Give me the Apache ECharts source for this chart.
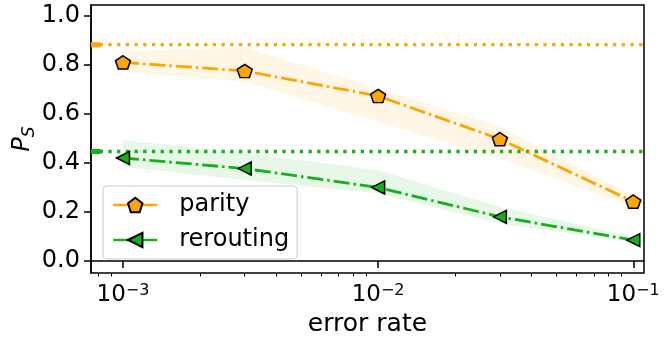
<!DOCTYPE html>
<html>
<head>
<meta charset="utf-8">
<script src="https://cdn.jsdelivr.net/npm/echarts@6/dist/echarts.min.js"></script>
<style>
  html, body { margin: 0; padding: 0; background: #fff; }
  #chart { width: 671px; height: 339px; }
</style>
</head>
<body>
<div id="chart"></div>
<script>
// error rates (x) and success probabilities
const errorRates = [1e-3, 3e-3, 1e-2, 3e-2, 1e-1];
const parity = [0.81, 0.775, 0.673, 0.497, 0.242];
const parityLow = [0.771, 0.731, 0.567, 0.418, 0.22];
const parityHigh = [0.856, 0.871, 0.704, 0.547, 0.268];
const rerouting = [0.42, 0.377, 0.30, 0.18, 0.085];
const reroutingLow = [0.384, 0.33, 0.275, 0.153, 0.078];
const reroutingHigh = [0.493, 0.44, 0.37, 0.22, 0.10];
// reference levels (dotted lines)
const parityRef = 0.882;
const reroutingRef = 0.4465;
// axis ticks
const yTicks = [0, 0.2, 0.4, 0.6, 0.8, 1.0];
const xMajor = [1e-3, 1e-2, 1e-1];
const xMinor = [8e-4, 9e-4, 2e-3, 3e-3, 4e-3, 5e-3, 6e-3, 7e-3, 8e-3, 9e-3,
  2e-2, 3e-2, 4e-2, 5e-2, 6e-2, 7e-2, 8e-2, 9e-2];

const ORANGE = "#FFA500";
const GREEN = "#15b01a";
const FONT = "DejaVu Sans";
const FS = 24;
const X_MIN = -3.1253;
const X_MAX = -0.958;

const lg = (v) => Math.log10(v);
const pts = (ys) => errorRates.map((x, i) => [lg(x), ys[i]]);
const hline = (y) => [[X_MIN, y], [X_MAX, y]];
const stub = (y) => [[X_MIN, y], [X_MIN + 0.038, y]];

const pentagon = "path://M50,0 L97.55,34.55 L79.39,90.45 L20.61,90.45 L2.45,34.55 Z";
const triLeft = "path://M0,50 L100,0 L100,100 Z";

// shaded band between lo and hi, drawn as one polygon
function band(lo, hi, color) {
  return {
    type: "custom", silent: true, z: 1,
    data: [0],
    renderItem: function (params, api) {
      const upper = errorRates.map((x, i) => api.coord([lg(x), hi[i]]));
      const lower = errorRates.map((x, i) => api.coord([lg(x), lo[i]])).reverse();
      return {
        type: "polygon",
        shape: { points: upper.concat(lower) },
        style: { fill: color, opacity: 0.1 },
      };
    },
  };
}

function refLine(y, color) {
  return [
    {
      type: "line", data: hline(y), symbol: "none", silent: true, z: 2,
      lineStyle: { color: color, width: 3.3, type: [3.3, 5.4] },
    },
    {
      type: "line", data: stub(y), symbol: "none", silent: true, z: 2,
      lineStyle: { color: color, width: 5 },
    },
  ];
}

const chart = echarts.init(document.getElementById("chart"));
chart.setOption({
  animation: false,
  textStyle: { fontFamily: FONT },
  grid: {
    left: 91, right: 27, top: 5, bottom: 66,
    outerBoundsMode: "none", containLabel: false,
    show: true, borderColor: "#000", borderWidth: 1.5,
  },
  legend: {
    data: ["parity", "rerouting"],
    orient: "vertical",
    left: 103, top: 186,
    padding: [7, 8, 7, 9],
    itemWidth: 44, itemHeight: 18, itemGap: 11,
    borderColor: "#cccccc", borderWidth: 1, borderRadius: 4,
    backgroundColor: "rgba(255,255,255,0.8)",
    lineStyle: { type: "solid", width: 2.5 },
    textStyle: { fontSize: FS, color: "#000", fontFamily: FONT, padding: [0, 0, 0, 17], lineHeight: 24 },
  },
  xAxis: [
    {
      type: "value", min: X_MIN, max: X_MAX,
      name: "error rate", nameLocation: "middle", nameGap: 28,
      nameTextStyle: { fontSize: 25, color: "#000", fontFamily: FONT },
      axisLine: { show: true, lineStyle: { color: "#000", width: 1.5 } },
      axisTick: { show: true, length: 7, lineStyle: { color: "#000", width: 1.5 }, customValues: xMajor.map(lg) },
      axisLabel: {
        customValues: xMajor.map(lg),
        color: "#000", fontSize: 23, margin: 10,
        formatter: (v) => "10{sup|\u2212" + Math.round(-v) + "}",
        rich: {
          sup: { fontSize: 16, color: "#000", verticalAlign: "top", padding: [0, 0, 9, 0] },
        },
      },
      splitLine: { show: false },
    },
    {
      type: "value", min: X_MIN, max: X_MAX, gridIndex: 0, position: "bottom",
      axisLine: { show: false },
      axisTick: { show: true, length: 3.5, lineStyle: { color: "#000", width: 1 }, customValues: xMinor.map(lg) },
      axisLabel: { show: false },
      splitLine: { show: false },
    },
  ],
  yAxis: {
    type: "value", min: -0.049, max: 1.044,
    name: "{P|P}{S|S}", nameLocation: "middle", nameGap: 56, nameRotate: 90,
    nameMoveOverlap: false,
    nameTextStyle: {
      rich: {
        P: { fontSize: 24, fontStyle: "italic", color: "#000", fontFamily: FONT, lineHeight: 24, verticalAlign: "top" },
        S: { fontSize: 17, fontStyle: "italic", color: "#000", fontFamily: FONT, lineHeight: 17, verticalAlign: "top", padding: [10, 0, 0, 0] },
      },
    },
    axisLine: { show: true, lineStyle: { color: "#000", width: 1.5 } },
    axisTick: { show: true, length: 7, lineStyle: { color: "#000", width: 1.5 }, customValues: yTicks },
    axisLabel: {
      customValues: yTicks, color: "#000", fontSize: FS, margin: 11,
      formatter: (v) => v.toFixed(1),
    },
    splitLine: { show: false },
  },
  series: [
    band(parityLow, parityHigh, ORANGE),
    band(reroutingLow, reroutingHigh, GREEN),
    ...refLine(parityRef, ORANGE),
    ...refLine(reroutingRef, GREEN),
    {
      name: "parity", type: "line", data: pts(parity), z: 5,
      symbol: pentagon, symbolSize: [15, 14], symbolKeepAspect: true,
      itemStyle: { color: ORANGE, borderColor: "#000", borderWidth: 1.5 },
      lineStyle: { color: ORANGE, width: 2.8, type: [16, 4, 2.5, 4] },
    },
    {
      name: "rerouting", type: "line", data: pts(rerouting), z: 5,
      symbol: triLeft, symbolSize: [13, 13],
      itemStyle: { color: GREEN, borderColor: "#000", borderWidth: 1.5 },
      lineStyle: { color: GREEN, width: 2.8, type: [16, 4, 2.5, 4] },
    },
  ],
});
</script>
</body>
</html>
